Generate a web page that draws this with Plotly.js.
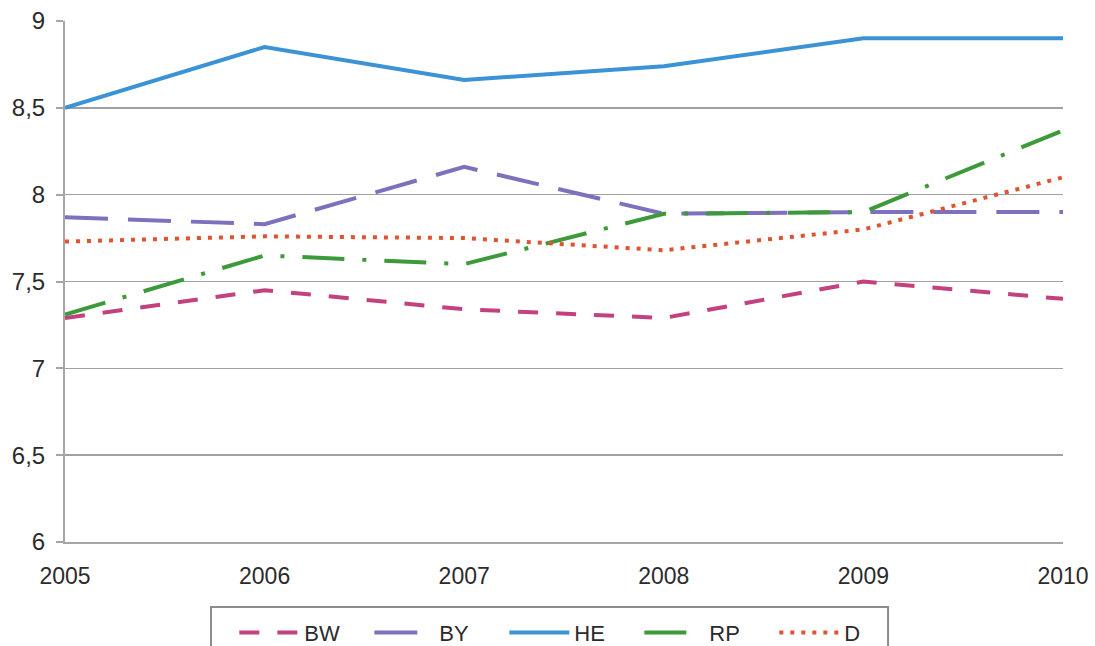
<!DOCTYPE html>
<html>
<head>
<meta charset="utf-8">
<script src="https://cdn.plot.ly/plotly-3.0.1.min.js"></script>
<style>
  html, body { margin: 0; padding: 0; background: #ffffff; }
  #chart { width: 1095px; height: 646px; }
</style>
</head>
<body>
<div id="chart"></div>
<script>
// Years on the x axis
const years = [2005, 2006, 2007, 2008, 2009, 2010];

// Series values per region
const bw = [7.29, 7.45, 7.34, 7.29, 7.50, 7.40];
const by = [7.87, 7.83, 8.16, 7.89, 7.90, 7.90];
const he = [8.50, 8.85, 8.66, 8.74, 8.90, 8.90];
const rp = [7.31, 7.65, 7.60, 7.89, 7.90, 8.37];
const d  = [7.73, 7.76, 7.75, 7.68, 7.80, 8.10];

// Axis tick values and labels (comma as decimal mark)
const yTickVals = [6, 6.5, 7, 7.5, 8, 8.5, 9];
const yTickText = ['6', '6,5', '7', '7,5', '8', '8,5', '9'];

const font = 'Liberation Sans, Arial, sans-serif';

function series(name, y, color, dash) {
  return {
    type: 'scatter',
    mode: 'lines',
    name: name,
    x: years,
    y: y,
    line: { color: color, width: 4, dash: dash },
    hoverinfo: 'skip'
  };
}

const data = [
  series('BW', bw, '#c4417f', '20px,18px'),
  series('BY', by, '#7f70bd', '43px,20px'),
  series('HE', he, '#3b93d6', 'solid'),
  series('RP', rp, '#3d9a3b', '42px,18px,4px,18px'),
  series('D',  d,  '#e0532f', '4px,7px')
];

const layout = {
  width: 1095,
  height: 646,
  margin: { l: 65, r: 32, t: 21, b: 104 },
  paper_bgcolor: '#ffffff',
  plot_bgcolor: '#ffffff',
  font: { family: font, size: 23, color: '#2b2b2b' },
  showlegend: true,
  xaxis: {
    range: [2005, 2010],
    tickvals: years,
    ticktext: years.map(String),
    showgrid: false,
    zeroline: false,
    showline: true,
    linecolor: '#a6a6a6',
    linewidth: 2,
    ticks: '',
    ticklabelstandoff: 12,
    tickfont: { family: font, size: 23, color: '#2b2b2b' },
    fixedrange: true
  },
  yaxis: {
    range: [6, 9],
    tickvals: yTickVals,
    ticktext: yTickText,
    showgrid: true,
    gridcolor: '#a0a0a0',
    gridwidth: 1.5,
    zeroline: false,
    showline: true,
    linecolor: '#a6a6a6',
    linewidth: 2,
    ticks: 'outside',
    ticklen: 7,
    tickcolor: '#a6a6a6',
    tickwidth: 2,
    ticklabelstandoff: 6,
    tickfont: { family: font, size: 24, color: '#2b2b2b' },
    fixedrange: true
  },
  legend: {
    orientation: 'h',
    xref: 'container',
    yref: 'container',
    x: 0.214,
    xanchor: 'left',
    y: 0.053,
    yanchor: 'top',
    borderwidth: 0,
    bgcolor: 'rgba(0,0,0,0)',
    font: { family: font, size: 22, color: '#2b2b2b' },
    itemwidth: 60,
    entrywidth: 60,
    entrywidthmode: 'pixels',
    itemclick: false,
    itemdoubleclick: false
  },
  shapes: [
    {
      type: 'rect',
      xref: 'paper',
      yref: 'paper',
      x0: 0.1463,
      x1: 0.8247,
      y0: -0.1248,
      y1: -0.30,
      line: { color: '#8c8c8c', width: 2 },
      fillcolor: 'rgba(0,0,0,0)',
      layer: 'below'
    }
  ]
};

Plotly.newPlot('chart', data, layout, { displayModeBar: false, staticPlot: true });
</script>
</body>
</html>
